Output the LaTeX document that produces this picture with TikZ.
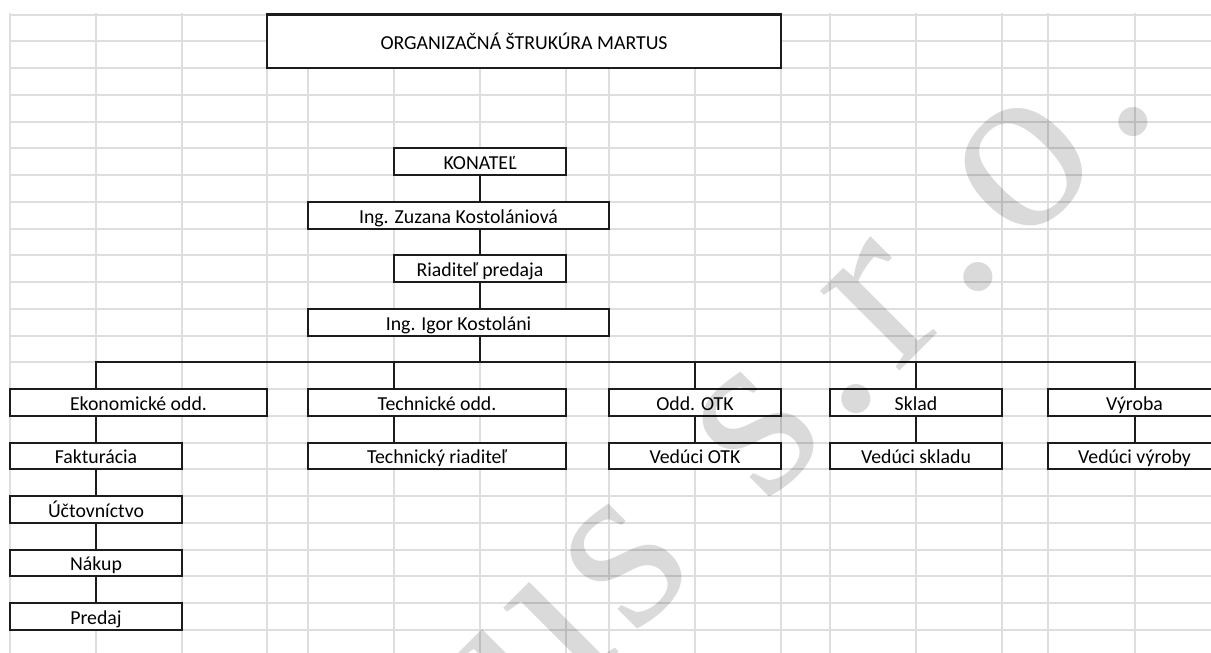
\documentclass[tikz,border=0pt]{standalone}
\usepackage{fontspec}
\newfontfamily\cellfont{Carlito}
\newfontfamily\markfont{Liberation Serif}
\usepackage{xcolor}
\usetikzlibrary{positioning}
\definecolor{gridgray}{RGB}{222,222,222}
\definecolor{markgray}{RGB}{218,218,218}
\definecolor{boxline}{RGB}{28,28,28}

\begin{document}
\begin{tikzpicture}[x=0.5pt, y=-0.5pt,
		cell/.style={draw=boxline, line width=1pt, fill=white, inner sep=0pt,
			minimum height=13.375pt, text height=8pt, text depth=0pt,
			font=\cellfont\fontsize{9.9}{11}\selectfont},
		link/.style={draw=boxline, line width=1pt},
		gridline/.style={draw=gridgray, line width=1pt},
		markglyph/.style={text=markgray, inner sep=0pt, anchor=base west, transform shape,
			font=\markfont\fontsize{122.5}{125}\selectfont}]
	\useasboundingbox (0,0) rectangle (1211,653);
	\clip (0,0) rectangle (1211,653);
	% sheet grid
	\foreach \gx in {10,96,182,267,308,394,480,566,609,695,781,830,916,1002,1048,1135}
		\draw[gridline] (\gx,13) -- (\gx,653);
	\foreach \k in {0,...,23}
		\draw[gridline] (9.5,14.5+26.75*\k) -- (1211,14.5+26.75*\k);

	% boxes
	\node[cell, line width=1.4pt, minimum width=257pt, minimum height=26.75pt] (title) at (524,41.25) {ORGANIZAČNÁ ŠTRUKÚRA MARTUS};
	\node[cell, minimum width=86pt] (konatel) at (480,161.625) {KONATEĽ};
	\node[cell, minimum width=150.5pt] (zuzana) at (458.5,215.125) {Ing. Zuzana Kostolániová};
	\node[cell, minimum width=86pt] (riaditel) at (480,268.625) {Riaditeľ predaja};
	\node[cell, minimum width=150.5pt] (igor) at (458.5,322.125) {Ing. Igor Kostoláni};

	\node[cell, minimum width=128.5pt] (ekon) at (138.5,402.375) {Ekonomické odd.};
	\node[cell, minimum width=129pt] (techn) at (437,402.375) {Technické odd.};
	\node[cell, minimum width=86pt] (otk) at (695,402.375) {Odd. OTK};
	\node[cell, minimum width=86pt] (sklad) at (916,402.375) {Sklad};
	\node[cell, minimum width=86.5pt] (vyroba) at (1134.5,402.375) {Výroba};

	\node[cell, minimum width=86pt] (faktur) at (96,455.875) {Fakturácia};
	\node[cell, minimum width=86pt] (uctov) at (96,509.375) {Účtovníctvo};
	\node[cell, minimum width=86pt] (nakup) at (96,562.875) {Nákup};
	\node[cell, minimum width=86pt] (predaj) at (96,616.375) {Predaj};
	\node[cell, minimum width=129pt] (techriad) at (437,455.875) {Technický riaditeľ};
	\node[cell, minimum width=86pt] (vedotk) at (695,455.875) {Vedúci OTK};
	\node[cell, minimum width=86pt] (vedskl) at (916,455.875) {Vedúci skladu};
	\node[cell, minimum width=86.5pt] (vedvyr) at (1134.5,455.875) {Vedúci výroby};

	% connectors
	\coordinate (bus) at (0,362.25);
	\coordinate (techdrop) at (394,362.25);
	\draw[link] (konatel.south) -- (konatel.south |- zuzana.north);
	\draw[link] (konatel.south |- zuzana.south) -- (riaditel.north);
	\draw[link] (riaditel.south) -- (riaditel.south |- igor.north);
	\draw[link] (riaditel.south |- igor.south) -- (riaditel.south |- bus);
	\draw[link] (faktur.north |- ekon.north) -- (faktur.north |- bus) -- (vyroba.north |- bus) -- (vyroba.north);
	\draw[link] (techdrop) -- (techdrop |- techn.north);
	\draw[link] (otk.north |- bus) -- (otk.north);
	\draw[link] (sklad.north |- bus) -- (sklad.north);
	\draw[link] (faktur.north |- ekon.south) -- (faktur.north);
	\draw[link] (faktur.south) -- (uctov.north);
	\draw[link] (uctov.south) -- (nakup.north);
	\draw[link] (nakup.south) -- (predaj.north);
	\draw[link] (techdrop |- techn.south) -- (techdrop |- techriad.north);
	\draw[link] (otk.south) -- (vedotk.north);
	\draw[link] (sklad.south) -- (vedskl.north);
	\draw[link] (vyroba.south) -- (vedvyr.north);

	% watermark
	\begin{scope}[blend mode=multiply, shift={(535,736)}, rotate=45]
		\foreach \ch/\d [count=\i] in {u/0, s/137.5, s/324, ./434.4, r/510.6, ./607.2, o/686, ./826}
			\node[markglyph] (mark\i) at (\d,0) {\ch};
	\end{scope}
\end{tikzpicture}
\end{document}
